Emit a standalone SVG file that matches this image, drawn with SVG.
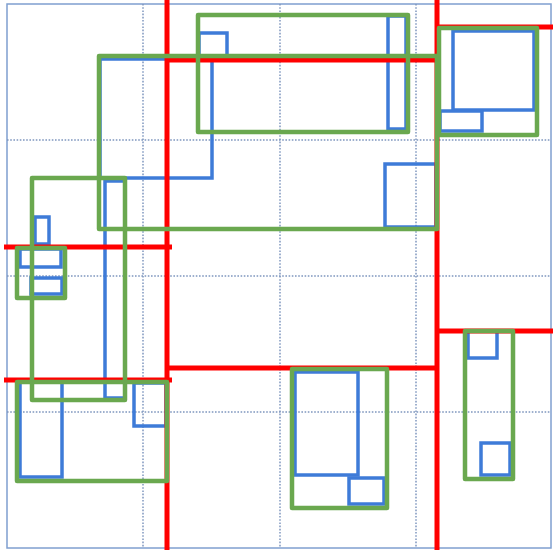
<svg xmlns="http://www.w3.org/2000/svg" width="553" height="550" viewBox="0 0 553 550">
<style>
.grid{stroke:#7f97bf;stroke-width:1.5;stroke-dasharray:1.6 1.6;fill:none}
.red{stroke:#ff0000;stroke-width:5;fill:none}
.blue{stroke:#3e7bd8;stroke-width:3.5;fill:none}
.green{stroke:#6aa84f;stroke-width:4.5;fill:none;stroke-linejoin:round}
</style>
<rect x="0" y="0" width="553" height="550" fill="#ffffff"/>
<rect x="7" y="4" width="544" height="544" fill="none" stroke="#7f9fcf" stroke-width="1.5"/>
<g id="grid">
<line class="grid" x1="143" y1="4" x2="143" y2="548"/>
<line class="grid" x1="280" y1="4" x2="280" y2="548"/>
<line class="grid" x1="416" y1="4" x2="416" y2="548"/>
<line class="grid" x1="7" y1="140" x2="551" y2="140"/>
<line class="grid" x1="7" y1="276" x2="551" y2="276"/>
<line class="grid" x1="7" y1="412" x2="551" y2="412"/>
</g>
<g id="blue">
<rect class="blue" x="199" y="33" width="28" height="24"/>
<rect class="blue" x="100" y="59" width="112" height="119"/>
<rect class="blue" x="105" y="181" width="20" height="217"/>
<rect class="blue" x="35" y="217" width="14" height="27"/>
<rect class="blue" x="20" y="249" width="41" height="18"/>
<rect class="blue" x="31" y="278" width="31" height="16"/>
<rect class="blue" x="20" y="382" width="42" height="95"/>
<rect class="blue" x="134" y="383" width="32" height="43"/>
<rect class="blue" x="295" y="372" width="63" height="103"/>
<rect class="blue" x="349" y="478" width="35" height="26"/>
<rect class="blue" x="385" y="164" width="51" height="63"/>
<rect class="blue" x="388" y="16" width="18" height="113"/>
<rect class="blue" x="453" y="31" width="81" height="79"/>
<rect class="blue" x="440" y="111" width="42" height="20"/>
<rect class="blue" x="468" y="331" width="29" height="27"/>
<rect class="blue" x="481" y="443" width="29" height="32"/>
</g>
<g id="red">
<line class="red" x1="167" y1="0" x2="167" y2="550"/>
<line class="red" x1="437" y1="0" x2="437" y2="550"/>
<line class="red" x1="167" y1="60" x2="437" y2="60"/>
<line class="red" x1="167" y1="368" x2="437" y2="368"/>
<line class="red" x1="437" y1="27" x2="553" y2="27"/>
<line class="red" x1="437" y1="331" x2="553" y2="331"/>
<line class="red" x1="4" y1="247" x2="172" y2="247"/>
<line class="red" x1="4" y1="380" x2="172" y2="380"/>
</g>
<g id="green">
<rect class="green" x="99" y="56" width="338" height="173"/>
<rect class="green" x="198" y="15" width="210" height="117"/>
<rect class="green" x="439" y="28" width="98" height="107"/>
<rect class="green" x="32" y="178" width="93" height="222"/>
<rect class="green" x="17" y="248" width="48" height="50"/>
<rect class="green" x="17" y="382" width="150" height="99"/>
<rect class="green" x="292" y="369" width="95" height="139"/>
<rect class="green" x="465" y="331" width="48" height="148"/>
</g>
</svg>
